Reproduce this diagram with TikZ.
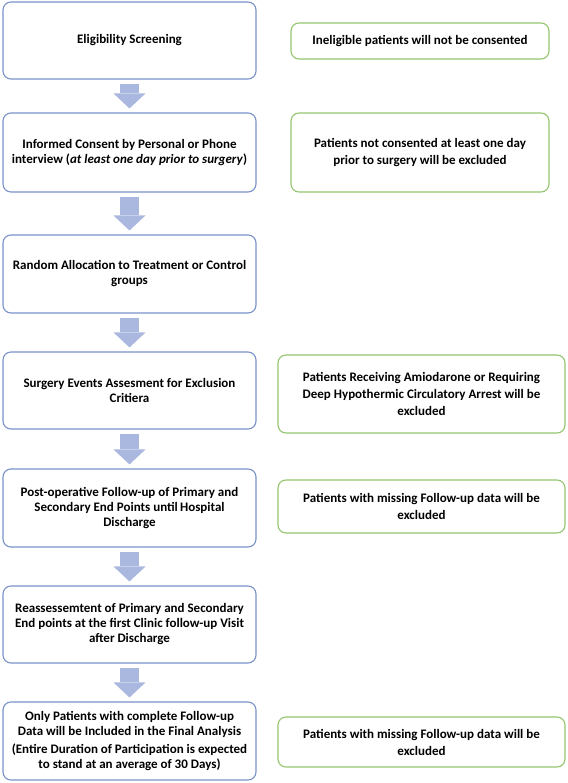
\documentclass[tikz,border=0pt]{standalone}
\usepackage{fontspec}
\setmainfont{Carlito}
\usetikzlibrary{arrows.meta}
\definecolor{stepblue}{RGB}{122,146,201}
\definecolor{arrowblue}{RGB}{170,183,222}
\definecolor{exclgreen}{RGB}{148,196,110}

\begin{document}
\begin{tikzpicture}
  [
  x=1pt, y=-1pt,
  font=\bfseries\fontsize{13}{15}\selectfont,
  stepnode/.style={rectangle, rounded corners=8pt, align=center, minimum width=253pt, minimum height=77pt, draw=stepblue, line width=1.1pt},
  exclnode/.style={rectangle, rounded corners=8pt, align=center, draw=exclgreen, line width=1.1pt, font=\bfseries\fontsize{13}{17}\selectfont},
  flowarrow/.style={draw=arrowblue, line width=19pt, -{Triangle[width=32pt,length=15pt,line width=0pt]}, shorten <=4pt, shorten >=4pt},
  ]

  \useasboundingbox (0,0) rectangle (567,783);

  % main steps
  \node[stepnode] (s1) at (129.5,40.5) {Eligibility Screening};
  \node[stepnode, minimum height=79pt] (s2) at (129.5,152.5) {Informed Consent by Personal or Phone\\interview (\textit{at least one day prior to surgery})};
  \node[stepnode, minimum height=78pt] (s3) at (129.5,274) {Random Allocation to Treatment or Control\\groups};
  \node[stepnode] (s4) at (129.5,390.5) {Surgery Events Assesment for Exclusion\\Critiera};
  \node[stepnode, minimum height=78pt] (s5) at (129.5,508) {Post-operative Follow-up of Primary and\\Secondary End Points until\,Hospital\\Discharge};
  \node[stepnode] (s6) at (129.5,624.5) {Reassessemtent of Primary and Secondary\\End points at the first Clinic follow-up Visit\\after Discharge};
  \node[stepnode, minimum height=78pt] (s7) at (129.5,741) {Only Patients with complete Follow-up\\Data will be Included in the Final Analysis\\[3pt](Entire Duration of Participation is expected\\to stand at an average of 30 Days)};

  % exclusions
  \node[exclnode, minimum width=258pt, minimum height=36pt] (x1) at (420,41) {Ineligible patients will not be consented};
  \node[exclnode, minimum width=258pt, minimum height=79pt] (x2) at (420,152.5) {Patients not consented at least one day\\prior to surgery will be excluded};
  \node[exclnode, minimum width=287pt, minimum height=78pt] (x3) at (421.5,394) {Patients Receiving Amiodarone or Requiring\\Deep Hypothermic Circulatory Arrest will be\\excluded};
  \node[exclnode, minimum width=287pt, minimum height=53pt] (x4) at (421.5,506.5) {Patients with missing Follow-up data will be\\excluded};
  \node[exclnode, minimum width=287pt, minimum height=50pt] (x5) at (421.5,742) {Patients with missing Follow-up data will be\\excluded};

  \foreach \a/\b in {s1/s2,s2/s3,s3/s4,s4/s5,s5/s6,s6/s7}
    \draw[flowarrow] (\a.south) -- (\b.north);

\end{tikzpicture}
\end{document}
